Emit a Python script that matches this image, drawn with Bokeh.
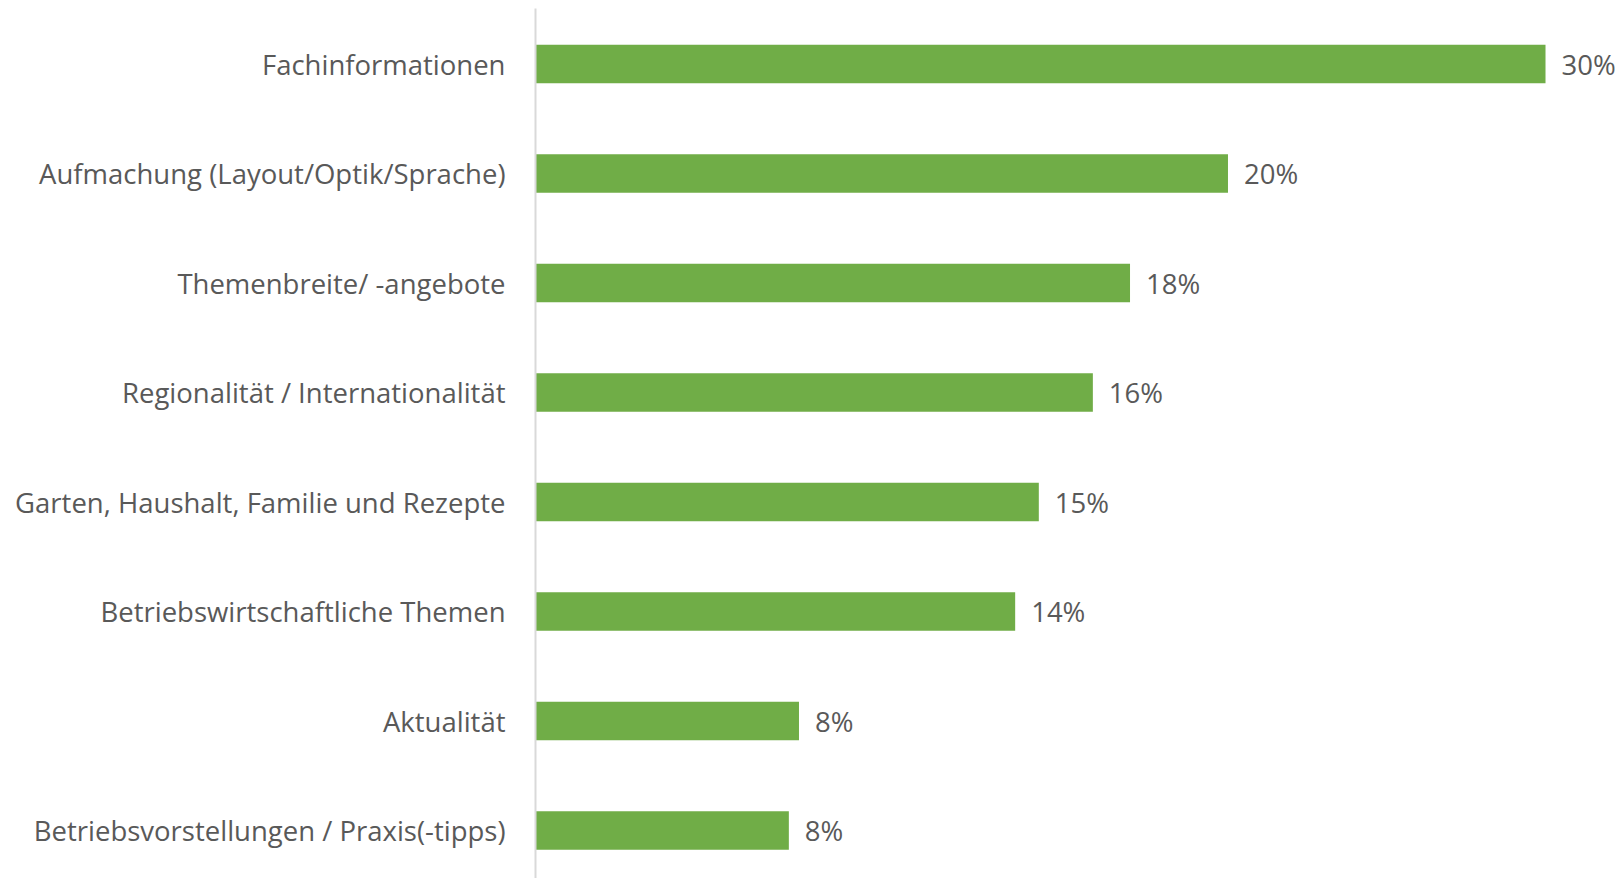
from bokeh.plotting import figure
from bokeh.models import ColumnDataSource, Range1d, FixedTicker
from bokeh.core.properties import value
from bokeh.embed import file_html
from bokeh.resources import INLINE

categories = [
    "Fachinformationen",
    "Aufmachung (Layout/Optik/Sprache)",
    "Themenbreite/ -angebote",
    "Regionalität / Internationalität",
    "Garten, Haushalt, Familie und Rezepte",
    "Betriebswirtschaftliche Themen",
    "Aktualität",
    "Betriebsvorstellungen / Praxis(-tipps)",
]
values = [29.9, 20.5, 17.6, 16.5, 14.9, 14.2, 7.8, 7.5]
value_labels = ["30%", "20%", "18%", "16%", "15%", "14%", "8%", "8%"]

FONT = "Open Sans"
TEXT_COLOR = "#595959"
BAR_COLOR = "#70AD47"

n = len(categories)
ypos = [n - 1 - i for i in range(n)]  # first category at top

src = ColumnDataSource(dict(y=ypos, cat=categories, val=values, lab=value_labels))

p = figure(
    width=1620, height=878,
    y_range=Range1d(-0.438, n - 1 + 0.507),
    x_range=Range1d(0, 32.12),
    output_backend="svg", toolbar_location=None,
    x_axis_location=None,
    min_border_left=535, min_border_right=0, min_border_top=8, min_border_bottom=0,
)
p.outline_line_color = None
p.grid.grid_line_color = None
p.background_fill_color = "white"

p.hbar(y="y", right="val", left=0, height=0.353, source=src,
       fill_color=BAR_COLOR, line_color=None)

p.text(x="val", y="y", text="lab", source=src, x_offset=16,
       text_baseline="middle", text_align="left",
       text_font=value(FONT), text_font_size="27.5px", text_color=TEXT_COLOR)

ax = p.yaxis[0]
ax.ticker = FixedTicker(ticks=ypos)
ax.major_label_overrides = {y: c for y, c in zip(ypos, categories)}
ax.axis_line_color = "#d9d9d9"
ax.axis_line_width = 2
ax.major_tick_line_color = None
ax.minor_tick_line_color = None
ax.major_label_text_font = FONT
ax.major_label_text_font_size = "27.5px"
ax.major_label_text_color = TEXT_COLOR
ax.major_label_standoff = 24

open("out.html", "w").write(file_html(p, INLINE))
